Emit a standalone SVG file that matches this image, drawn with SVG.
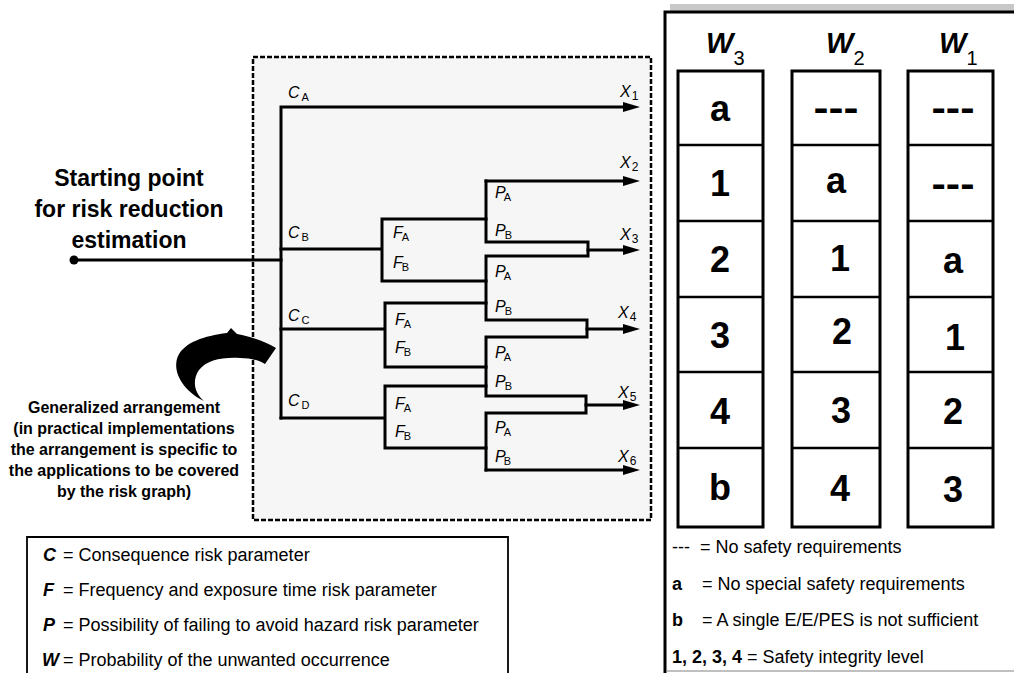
<svg xmlns="http://www.w3.org/2000/svg" width="1014" height="673" viewBox="0 0 1014 673">
<defs>
<style>
.ln{fill:none;stroke:#000;stroke-width:3;stroke-linecap:square;stroke-linejoin:miter}
.lbl{font-family:"Liberation Sans",Arial,sans-serif;font-style:italic;font-size:16px;fill:#000}
.sub{font-style:normal;font-size:11px}
.xsub{font-style:normal;font-size:12px}
.title{font-family:"Liberation Sans",Arial,sans-serif;font-weight:bold;font-size:23px;text-anchor:middle}
.note{font-family:"Liberation Sans",Arial,sans-serif;font-weight:bold;font-size:16px;text-anchor:middle}
.cell{font-family:"Liberation Sans",Arial,sans-serif;font-weight:bold;font-size:36px;text-anchor:middle}
.hdr{font-family:"Liberation Sans",Arial,sans-serif;font-weight:bold;font-style:italic;font-size:29px}
.hsub{font-style:normal;font-weight:normal;font-size:20px}
.leg{font-family:"Liberation Sans",Arial,sans-serif;font-size:18px;fill:#000}
.box{fill:#fff;stroke:#000;stroke-width:3}
.row{stroke:#000;stroke-width:2.5}
</style>
<marker id="arr" markerUnits="userSpaceOnUse" markerWidth="18" markerHeight="10" refX="7" refY="5" orient="auto">
<path d="M0,0 L17,5 L0,10 Z" fill="#000"/>
</marker>
</defs>
<rect width="1014" height="673" fill="#fff"/>

<g id="frame">
<rect x="253" y="57" width="398" height="463" fill="#f6f6f6" stroke="#000" stroke-width="2.5" stroke-dasharray="5 2"/>
</g>

<g id="start-node">
<circle cx="74" cy="260" r="4.5" fill="#000"/>
<text class="title" x="129" y="186">Starting point</text>
<text class="title" x="129" y="217">for risk reduction</text>
<text class="title" x="129" y="248">estimation</text>
</g>

<g id="connectors">
<path class="ln" d="M74 260 H281"/>
<path class="ln" d="M281 418 V107 H630" marker-end="url(#arr)"/>
<path class="ln" d="M281 249 H382 M382 219 V281 M382 219 H486 M382 281 H486"/>
<path class="ln" d="M281 329 H385 M385 303 V367 M385 303 H486 M385 367 H486"/>
<path class="ln" d="M281 418 H385 M385 386 V448 M385 386 H486 M385 448 H486"/>
<path class="ln" d="M486 181 V242 H588 V256 H486 V320 H587 V337 H486 V396 H586 V413 H486 V470"/>
<path class="ln" d="M486 181 H630" marker-end="url(#arr)"/>
<path class="ln" d="M588 250 H630" marker-end="url(#arr)"/>
<path class="ln" d="M587 329 H630" marker-end="url(#arr)"/>
<path class="ln" d="M586 405 H630" marker-end="url(#arr)"/>
<path class="ln" d="M486 470 H630" marker-end="url(#arr)"/>
</g>

<g id="labels-c" class="lbl">
<text x="288" y="98">C<tspan class="sub" dx="2" dy="3">A</tspan></text>
<text x="288" y="238">C<tspan class="sub" dx="2" dy="3">B</tspan></text>
<text x="288" y="321">C<tspan class="sub" dx="2" dy="3">C</tspan></text>
<text x="288" y="406">C<tspan class="sub" dx="2" dy="3">D</tspan></text>
</g>
<g id="labels-f" class="lbl">
<text x="393" y="238">F<tspan class="sub" dx="-1" dy="3">A</tspan></text>
<text x="393" y="268">F<tspan class="sub" dx="-1" dy="3">B</tspan></text>
<text x="395" y="325">F<tspan class="sub" dx="-1" dy="3">A</tspan></text>
<text x="395" y="353">F<tspan class="sub" dx="-1" dy="3">B</tspan></text>
<text x="395" y="409">F<tspan class="sub" dx="-1" dy="3">A</tspan></text>
<text x="395" y="437">F<tspan class="sub" dx="-1" dy="3">B</tspan></text>
</g>
<g id="labels-p" class="lbl">
<text x="495" y="198">P<tspan class="sub" dx="-2" dy="3">A</tspan></text>
<text x="495" y="236">P<tspan class="sub" dx="-1" dy="3">B</tspan></text>
<text x="495" y="277">P<tspan class="sub" dx="-2" dy="3">A</tspan></text>
<text x="495" y="312">P<tspan class="sub" dx="-1" dy="3">B</tspan></text>
<text x="495" y="358">P<tspan class="sub" dx="-2" dy="3">A</tspan></text>
<text x="495" y="387">P<tspan class="sub" dx="-1" dy="3">B</tspan></text>
<text x="495" y="433">P<tspan class="sub" dx="-2" dy="3">A</tspan></text>
<text x="495" y="462">P<tspan class="sub" dx="-2" dy="3">B</tspan></text>
</g>
<g id="labels-x" class="lbl">
<text x="620" y="97">X<tspan class="xsub" dx="1" dy="3">1</tspan></text>
<text x="620" y="168">X<tspan class="xsub" dx="1" dy="3">2</tspan></text>
<text x="620" y="240">X<tspan class="xsub" dx="1" dy="3">3</tspan></text>
<text x="618" y="318">X<tspan class="xsub" dx="1" dy="3">4</tspan></text>
<text x="618" y="398">X<tspan class="xsub" dx="1" dy="3">5</tspan></text>
<text x="618" y="462">X<tspan class="xsub" dx="1" dy="3">6</tspan></text>
</g>

<g id="generalized-note">
<path d="M204 401 C185 392 171 373 178 356 C185 342 204 336 227 333 L231 328 L237 334 C252 337 264 341 276 348 L265 364 C258 360 250 358 240 358 C222 357 207 360 199 370 C192 380 194 393 204 401 Z" fill="#000"/>
<text class="note" x="124" y="413">Generalized arrangement</text>
<text class="note" x="124" y="434">(in practical implementations</text>
<text class="note" x="124" y="455">the arrangement is specific to</text>
<text class="note" x="124" y="476">the applications to be covered</text>
<text class="note" x="124" y="497">by the risk graph)</text>
</g>

<g id="legend">
<path d="M27 673 V537 H508 V673" fill="none" stroke="#000" stroke-width="1.8"/>
<text class="leg" x="43" y="561"><tspan font-weight="bold" font-style="italic">C</tspan><tspan x="63">= Consequence risk parameter</tspan></text>
<text class="leg" x="43" y="596"><tspan font-weight="bold" font-style="italic">F</tspan><tspan x="63">= Frequency and exposure time risk parameter</tspan></text>
<text class="leg" x="43" y="631"><tspan font-weight="bold" font-style="italic">P</tspan><tspan x="63">= Possibility of failing to avoid hazard risk parameter</tspan></text>
<text class="leg" x="42" y="666"><tspan font-weight="bold" font-style="italic">W</tspan><tspan x="63">= Probability of the unwanted occurrence</tspan></text>
</g>

<g id="table">
<rect x="670" y="4" width="344" height="7" fill="#c8c8c8"/>
<path d="M665 673 V12 H1014" fill="none" stroke="#000" stroke-width="3"/>
<line x1="667" y1="671" x2="1014" y2="671" stroke="#c0c0c0" stroke-width="2"/>
</g>

<g id="col-w3">
<text class="hdr" x="706" y="53">W<tspan class="hsub" dy="12">3</tspan></text>
<rect class="box" x="678" y="71" width="85" height="456"/>
<path class="row" d="M678 145 H763 M678 221 H763 M678 297 H763 M678 372 H763 M678 448 H763"/>
<text class="cell" x="720" y="121">a</text>
<text class="cell" x="720" y="196">1</text>
<text class="cell" x="720" y="272">2</text>
<text class="cell" x="720" y="348">3</text>
<text class="cell" x="720" y="424">4</text>
<text class="cell" x="720" y="500">b</text>
</g>
<g id="col-w2">
<text class="hdr" x="826" y="53">W<tspan class="hsub" dy="12">2</tspan></text>
<rect class="box" x="792" y="71" width="88" height="456"/>
<path class="row" d="M792 145 H880 M792 221 H880 M792 297 H880 M792 372 H880 M792 448 H880"/>
<text class="cell" x="836" y="120" textLength="45" lengthAdjust="spacingAndGlyphs">---</text>
<text class="cell" x="836" y="193">a</text>
<text class="cell" x="840" y="271">1</text>
<text class="cell" x="842" y="344">2</text>
<text class="cell" x="841" y="423">3</text>
<text class="cell" x="840" y="501">4</text>
</g>
<g id="col-w1">
<text class="hdr" x="939" y="53">W<tspan class="hsub" dy="12">1</tspan></text>
<rect class="box" x="908" y="71" width="85" height="456"/>
<path class="row" d="M908 145 H993 M908 221 H993 M908 297 H993 M908 372 H993 M908 448 H993"/>
<text class="cell" x="953" y="120" textLength="43" lengthAdjust="spacingAndGlyphs">---</text>
<text class="cell" x="953" y="196" textLength="43" lengthAdjust="spacingAndGlyphs">---</text>
<text class="cell" x="953" y="273">a</text>
<text class="cell" x="955" y="350">1</text>
<text class="cell" x="953" y="424">2</text>
<text class="cell" x="953" y="502">3</text>
</g>

<g id="table-legend" class="leg">
<text x="672" y="553">---<tspan x="700">= No safety requirements</tspan></text>
<text x="672" y="590"><tspan font-weight="bold">a</tspan><tspan x="702">= No special safety requirements</tspan></text>
<text x="672" y="626"><tspan font-weight="bold">b</tspan><tspan x="702">= A single E/E/PES is not sufficient</tspan></text>
<text x="672" y="663"><tspan font-weight="bold">1, 2, 3, 4</tspan> = Safety integrity level</text>
</g>
</svg>
